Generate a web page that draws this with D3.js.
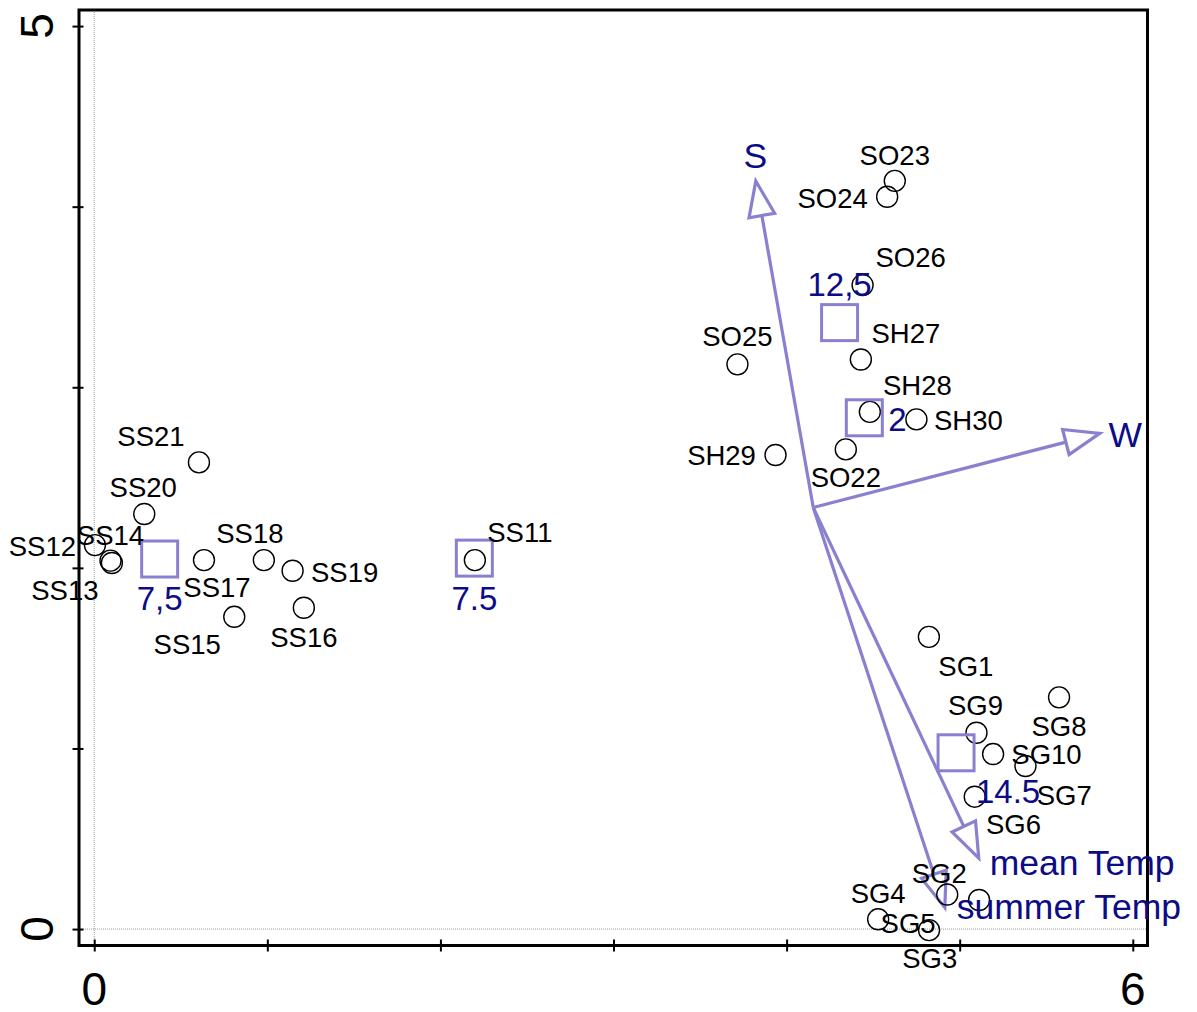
<!DOCTYPE html>
<html>
<head>
<meta charset="utf-8">
<script src="https://cdn.jsdelivr.net/npm/d3@7"></script>
<style>
  html, body { margin: 0; padding: 0; background: #fff; }
  svg { display: block; }
</style>
</head>
<body>
<svg id="chart" width="1197" height="1012"></svg>
<script>
// ---------------- DATA ----------------
const xTicks = [0, 1, 2, 3, 4, 5, 6];
const xTickLabels = ["0", "", "", "", "", "", "6"];
const yTicks = [0, 1, 2, 3, 4, 5];
const yTickLabels = ["0", "", "", "", "", "5"];

const siteNames = ["SG1","SG2","SG3","SG4","SG5","SG6","SG7","SG8","SG9","SG10",
  "SS11","SS12","SS13","SS14","SS15","SS16","SS17","SS18","SS19","SS20","SS21",
  "SO22","SO23","SO24","SO25","SO26","SH27","SH28","SH29","SH30"];
const siteX = [4.822,4.928,4.823,4.529,5.112,5.087,5.380,5.574,5.097,5.193,
  2.199,0.004,0.102,0.094,0.809,1.211,0.634,0.980,1.146,0.289,0.605,
  4.342,4.625,4.581,3.716,4.439,4.429,4.481,3.936,4.750];
const siteY = [1.618,0.191,-0.006,0.054,0.161,0.733,0.903,1.283,1.087,0.969,
  2.043,2.126,2.027,2.040,1.729,1.779,2.043,2.043,1.984,2.298,2.584,
  2.656,4.143,4.055,3.127,3.566,3.154,2.864,2.625,2.822];

const centroidNames = ["7,5", "7.5", "12,5", "2", "14.5"];
const centroidX = [0.378, 2.196, 4.306, 4.449, 4.979];
const centroidY = [2.049, 2.054, 3.358, 2.831, 0.976];

const envNames = ["S", "W", "mean Temp", "summer Temp"];
const envX = [3.822, 5.809, 5.110, 4.914];
const envY = [4.142, 2.745, 0.393, 0.119];
const envOrigin = [4.154, 2.334];

// ---------------- LAYOUT (label placement, pixels) ----------------
const siteLabelOffset = [[37,29],[-8,-21],[0.7,28.3],[0,-26],[-71,22.7],[38.8,27],[38.8,28.7],[0,29],[-1,-27.4],[53.4,0],
  [45,-28],[-52.5,1],[-47,27],[0,-25.5],[-47,27],[0,29],[13,27.5],[-14,-27],[52,1],[-1,-27],[-48,-26],
  [0,27.5],[0,-26],[-54.5,1.6],[0,-28],[48,-28],[45,-26],[47.5,-27],[-54,0.5],[52,0.5]];
const centroidLabelOffset = [[0,39],[0,40],[0,-38.5],[33,1],[52,38]];
const envLabelOffset = [[-0.5,-25.3,"middle"],[25.5,0.7,"middle"],[11,4.5,"start"],[12,-1.7,"start"]];

// ---------------- STYLE ----------------
const FONT = "Arial, 'Liberation Sans', Helvetica, sans-serif";
const lavender = "#8a80d0";
const navy = "#0c0c86";

const svg = d3.select("#chart");
const L = 79, R = 1147.5, T = 10, B = 945.5;
const x = d3.scaleLinear().domain([-0.088, 6.085]).range([L, R]);
const y = d3.scaleLinear().domain([-0.091, 5.089]).range([B, T]);

const capC = fs => 0.358 * fs; // baseline shift to center cap height

// dotted zero lines
svg.append("line").attr("x1", x(0)).attr("x2", x(0)).attr("y1", T).attr("y2", B)
  .attr("stroke", "#9a9a9a").attr("stroke-width", 1).attr("stroke-dasharray", "1,1");
svg.append("line").attr("x1", L).attr("x2", R).attr("y1", y(0)).attr("y2", y(0))
  .attr("stroke", "#9a9a9a").attr("stroke-width", 1).attr("stroke-dasharray", "1,1");

// axes via d3
const xAxis = d3.axisBottom(x).tickValues(xTicks).tickSize(12).tickFormat("");
const gx = svg.append("g").attr("transform", `translate(0,${B - 6})`).call(xAxis);
gx.select(".domain").remove();
gx.selectAll(".tick line").attr("stroke", "#000").attr("stroke-width", 2);

const yAxis = d3.axisLeft(y).tickValues(yTicks).tickSize(11).tickFormat("");
const gy = svg.append("g").attr("transform", `translate(${L + 4.5},0)`).call(yAxis);
gy.select(".domain").remove();
gy.selectAll(".tick line").attr("stroke", "#000").attr("stroke-width", 2);

// tick labels
svg.append("g").selectAll("text").data(xTicks).join("text")
  .attr("x", d => x(d)).attr("y", 1005)
  .attr("text-anchor", "middle")
  .attr("font-family", FONT).attr("font-size", 46).attr("fill", "#000")
  .text((d, i) => xTickLabels[i]);

svg.append("g").selectAll("text").data(yTicks).join("text")
  .attr("transform", d => `translate(53,${y(d)}) rotate(-90)`)
  .attr("text-anchor", "middle")
  .attr("font-family", FONT).attr("font-size", 46).attr("fill", "#000")
  .text((d, i) => yTickLabels[i]);

// frame
svg.append("rect").attr("x", L).attr("y", T).attr("width", R - L).attr("height", B - T)
  .attr("fill", "none").attr("stroke", "#000").attr("stroke-width", 3);

// environmental arrows
const HEAD_L = 35, HEAD_W = 13;
const arrows = svg.append("g");
envNames.forEach((name, i) => {
  const ox = x(envOrigin[0]), oy = y(envOrigin[1]);
  const tx = x(envX[i]), ty = y(envY[i]);
  const dx = tx - ox, dy = ty - oy, len = Math.hypot(dx, dy);
  const ux = dx / len, uy = dy / len;
  const bx = tx - HEAD_L * ux, by = ty - HEAD_L * uy;
  const px = -uy, py = ux;
  arrows.append("line").attr("x1", ox).attr("y1", oy).attr("x2", bx).attr("y2", by)
    .attr("stroke", lavender).attr("stroke-width", 3.2);
  arrows.append("path")
    .attr("d", `M${tx},${ty}L${bx + HEAD_W * px},${by + HEAD_W * py}L${bx - HEAD_W * px},${by - HEAD_W * py}Z`)
    .attr("fill", "none").attr("stroke", lavender).attr("stroke-width", 3.2);
});

// sites
svg.append("g").selectAll("circle").data(siteNames).join("circle")
  .attr("cx", (d, i) => x(siteX[i])).attr("cy", (d, i) => y(siteY[i]))
  .attr("r", 10.5).attr("fill", "none").attr("stroke", "#000").attr("stroke-width", 1.4);

// centroids
svg.append("g").selectAll("rect").data(centroidNames).join("rect")
  .attr("x", (d, i) => x(centroidX[i]) - 18).attr("y", (d, i) => y(centroidY[i]) - 18)
  .attr("width", 36).attr("height", 36)
  .attr("fill", "none").attr("stroke", lavender).attr("stroke-width", 3);

// site labels
svg.append("g").selectAll("text").data(siteNames).join("text")
  .attr("x", (d, i) => x(siteX[i]) + siteLabelOffset[i][0])
  .attr("y", (d, i) => y(siteY[i]) + siteLabelOffset[i][1] + capC(27.5))
  .attr("text-anchor", "middle")
  .attr("font-family", FONT).attr("font-size", 27.5).attr("fill", "#000")
  .text(d => d);

// centroid labels
svg.append("g").selectAll("text").data(centroidNames).join("text")
  .attr("x", (d, i) => x(centroidX[i]) + centroidLabelOffset[i][0])
  .attr("y", (d, i) => y(centroidY[i]) + centroidLabelOffset[i][1] + capC(33))
  .attr("text-anchor", "middle")
  .attr("font-family", FONT).attr("font-size", 33).attr("fill", navy)
  .text(d => d);

// env labels
svg.append("g").selectAll("text").data(envNames).join("text")
  .attr("x", (d, i) => x(envX[i]) + envLabelOffset[i][0])
  .attr("y", (d, i) => y(envY[i]) + envLabelOffset[i][1] + capC(35.5))
  .attr("text-anchor", (d, i) => envLabelOffset[i][2])
  .attr("font-family", FONT).attr("font-size", 35.5).attr("fill", navy)
  .text(d => d);
</script>
</body>
</html>
